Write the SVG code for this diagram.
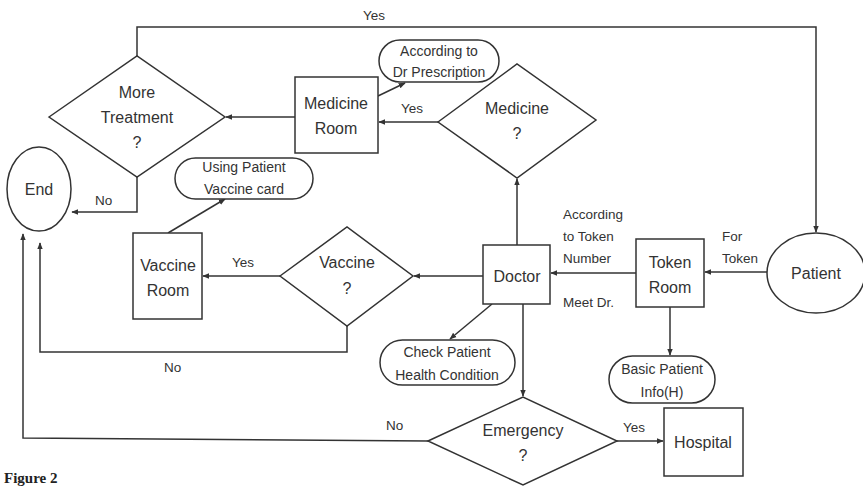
<svg xmlns="http://www.w3.org/2000/svg" width="863" height="486" viewBox="0 0 863 486">
<style>
.s{fill:#fff;stroke:#333;stroke-width:1.5}
.c{fill:none;stroke:#333;stroke-width:1.5}
.t{font-family:"Liberation Sans",Arial,sans-serif;font-size:16px;fill:#333;text-anchor:middle}
.l{font-family:"Liberation Sans",Arial,sans-serif;font-size:13.5px;fill:#333}
.p{font-family:"Liberation Sans",Arial,sans-serif;font-size:14px;fill:#333;text-anchor:middle}
</style>
<defs>
<marker id="a" viewBox="0 0 10 10" refX="9" refY="5" markerWidth="7" markerHeight="7" orient="auto" markerUnits="userSpaceOnUse">
<path d="M0,1 L10,5 L0,9 z" fill="#333"/>
</marker>
</defs>
<rect width="863" height="486" fill="#fff"/>
<g id="connectors">
<path class="c" d="M137,56 V27 H816 V232" marker-end="url(#a)"/>
<path class="c" d="M137,177 V212 H72" marker-end="url(#a)"/>
<path class="c" d="M295,117 H226" marker-end="url(#a)"/>
<path class="c" d="M438,122 H379" marker-end="url(#a)"/>
<path class="c" d="M378,96 L405,83" marker-end="url(#a)"/>
<path class="c" d="M517,245 V179" marker-end="url(#a)"/>
<path class="c" d="M767,272 H705" marker-end="url(#a)"/>
<path class="c" d="M636,273 H551" marker-end="url(#a)"/>
<path class="c" d="M670,307 V355" marker-end="url(#a)"/>
<path class="c" d="M492,304 L450,339" marker-end="url(#a)"/>
<path class="c" d="M523,304 V396" marker-end="url(#a)"/>
<path class="c" d="M617,441 H663" marker-end="url(#a)"/>
<path class="c" d="M428,441 L23,438 V234" marker-end="url(#a)"/>
<path class="c" d="M483,276 H414" marker-end="url(#a)"/>
<path class="c" d="M280,276 H203" marker-end="url(#a)"/>
<path class="c" d="M347,326 V352 H40 V243" marker-end="url(#a)"/>
<path class="c" d="M168,233 L225,199" marker-end="url(#a)"/>
<text class="l" x="363" y="20">Yes</text>
<text class="l" x="95" y="205">No</text>
<text class="l" x="401" y="113">Yes</text>
<text class="l" x="563" y="219">According</text>
<text class="l" x="563" y="241">to Token</text>
<text class="l" x="563" y="263">Number</text>
<text class="l" x="563" y="307">Meet Dr.</text>
<text class="l" x="722" y="241">For</text>
<text class="l" x="722" y="263">Token</text>
<text class="l" x="232" y="267">Yes</text>
<text class="l" x="164" y="372">No</text>
<text class="l" x="386" y="430">No</text>
<text class="l" x="623" y="432">Yes</text>
</g>
<g id="more-treatment">
<polygon class="s" points="49,117 137,56 225,117 137,177"/>
<text class="t" x="137" y="98">More</text>
<text class="t" x="137" y="123">Treatment</text>
<text class="t" x="137" y="148">?</text>
</g>
<g id="end">
<ellipse class="s" cx="39" cy="189" rx="32" ry="42"/>
<text class="t" x="39" y="195">End</text>
</g>
<g id="medicine-room">
<rect class="s" x="295" y="77" width="83" height="76"/>
<text class="t" x="336" y="109">Medicine</text>
<text class="t" x="336" y="134">Room</text>
</g>
<g id="dr-prescription">
<rect class="s" x="379" y="40" width="120" height="42" rx="21"/>
<text class="p" x="439" y="56">According to</text>
<text class="p" x="439" y="77">Dr Prescription</text>
</g>
<g id="medicine">
<polygon class="s" points="438,122 517,64 596,120 517,178"/>
<text class="t" x="517" y="114">Medicine</text>
<text class="t" x="517" y="139">?</text>
</g>
<g id="using-vaccine-card">
<rect class="s" x="175" y="158" width="138" height="41" rx="20.5"/>
<text class="p" x="244" y="172">Using  Patient</text>
<text class="p" x="244" y="194">Vaccine card</text>
</g>
<g id="vaccine-room">
<rect class="s" x="133" y="233" width="69" height="86"/>
<text class="t" x="168" y="271">Vaccine</text>
<text class="t" x="168" y="296">Room</text>
</g>
<g id="vaccine">
<polygon class="s" points="280,276 347,227 413,276 347,326"/>
<text class="t" x="347" y="268">Vaccine</text>
<text class="t" x="347" y="294">?</text>
</g>
<g id="doctor">
<rect class="s" x="483" y="245" width="67" height="59"/>
<text class="t" x="517" y="282">Doctor</text>
</g>
<g id="token-room">
<rect class="s" x="636" y="239" width="68" height="68"/>
<text class="t" x="670" y="268">Token</text>
<text class="t" x="670" y="293">Room</text>
</g>
<g id="patient">
<ellipse class="s" cx="816" cy="273" rx="49" ry="40"/>
<text class="t" x="816" y="279">Patient</text>
</g>
<g id="check-patient">
<rect class="s" x="380" y="340" width="135" height="45" rx="22.5"/>
<text class="p" x="447" y="357">Check Patient</text>
<text class="p" x="447" y="380">Health Condition</text>
</g>
<g id="basic-info">
<rect class="s" x="609" y="356" width="106" height="47" rx="23.5"/>
<text class="p" x="662" y="374">Basic Patient</text>
<text class="p" x="662" y="397">Info(H)</text>
</g>
<g id="emergency">
<polygon class="s" points="428,441 523,397 617,441 523,485"/>
<text class="t" x="523" y="436">Emergency</text>
<text class="t" x="523" y="461">?</text>
</g>
<g id="hospital">
<rect class="s" x="664" y="408" width="79" height="68"/>
<text class="t" x="703" y="448">Hospital</text>
</g>
<text x="4" y="483" font-family="'Liberation Serif',serif" font-size="15" font-weight="bold" fill="#222">Figure 2</text>
</svg>
